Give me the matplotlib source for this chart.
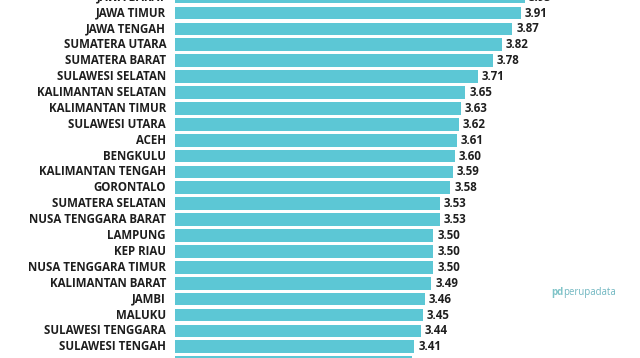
import matplotlib
matplotlib.use("Agg")
import matplotlib.pyplot as plt

# Province names (top to bottom) and their scores
provinces = ["JAWA BARAT", "JAWA TIMUR", "JAWA TENGAH", "SUMATERA UTARA",
             "SUMATERA BARAT", "SULAWESI SELATAN", "KALIMANTAN SELATAN",
             "KALIMANTAN TIMUR", "SULAWESI UTARA", "ACEH", "BENGKULU",
             "KALIMANTAN TENGAH", "GORONTALO", "SUMATERA SELATAN",
             "NUSA TENGGARA BARAT", "LAMPUNG", "KEP RIAU",
             "NUSA TENGGARA TIMUR", "KALIMANTAN BARAT", "JAMBI", "MALUKU",
             "SULAWESI TENGGARA", "SULAWESI TENGAH", ""]
scores = [3.93, 3.91, 3.87, 3.82, 3.78, 3.71, 3.65, 3.63, 3.62, 3.61, 3.60,
          3.59, 3.58, 3.53, 3.53, 3.50, 3.50, 3.50, 3.49, 3.46, 3.45, 3.44,
          3.41, 3.40]

bar_color = "#5cc7d5"
text_color = "#1e1e1e"
font = "Open Sans"
fs = 8.3

fig = plt.figure(figsize=(6.4, 3.58), dpi=100)
ax = fig.add_axes([175 / 640, 0, 465 / 640, 1])

rows = list(range(len(provinces)))
ax.barh(rows, scores, height=0.8, color=bar_color)

ax.set_xlim(2.287, 4.47)
ax.set_ylim(22.705, 0.182)
ax.axis("off")

# last bar is cut by the bottom edge, its texts are not shown
for r, name, val in zip(rows[:-1], provinces[:-1], scores[:-1]):
    ax.annotate(name, xy=(0, r), xycoords=("axes fraction", "data"),
                xytext=(-9, 0), textcoords="offset pixels",
                ha="right", va="center", fontsize=fs, fontweight="bold",
                family=font, color=text_color, annotation_clip=False)
    ax.annotate(f"{val:.2f}", xy=(val, r), xytext=(4, 0),
                textcoords="offset pixels", ha="left", va="center",
                fontsize=fs, fontweight="bold", family=font,
                color=text_color, annotation_clip=False)

# perupadata logo
fig.text(551 / 640, 1 - 292 / 358, "pd", fontsize=7, fontweight="bold",
         color="#7fc4c8", va="center", ha="left", family=font)
fig.text(563 / 640, 1 - 292 / 358, "perupadata", fontsize=6.9,
         color="#6fb6c0", va="center", ha="left", family=font)

fig.savefig("out.png", dpi=100)
